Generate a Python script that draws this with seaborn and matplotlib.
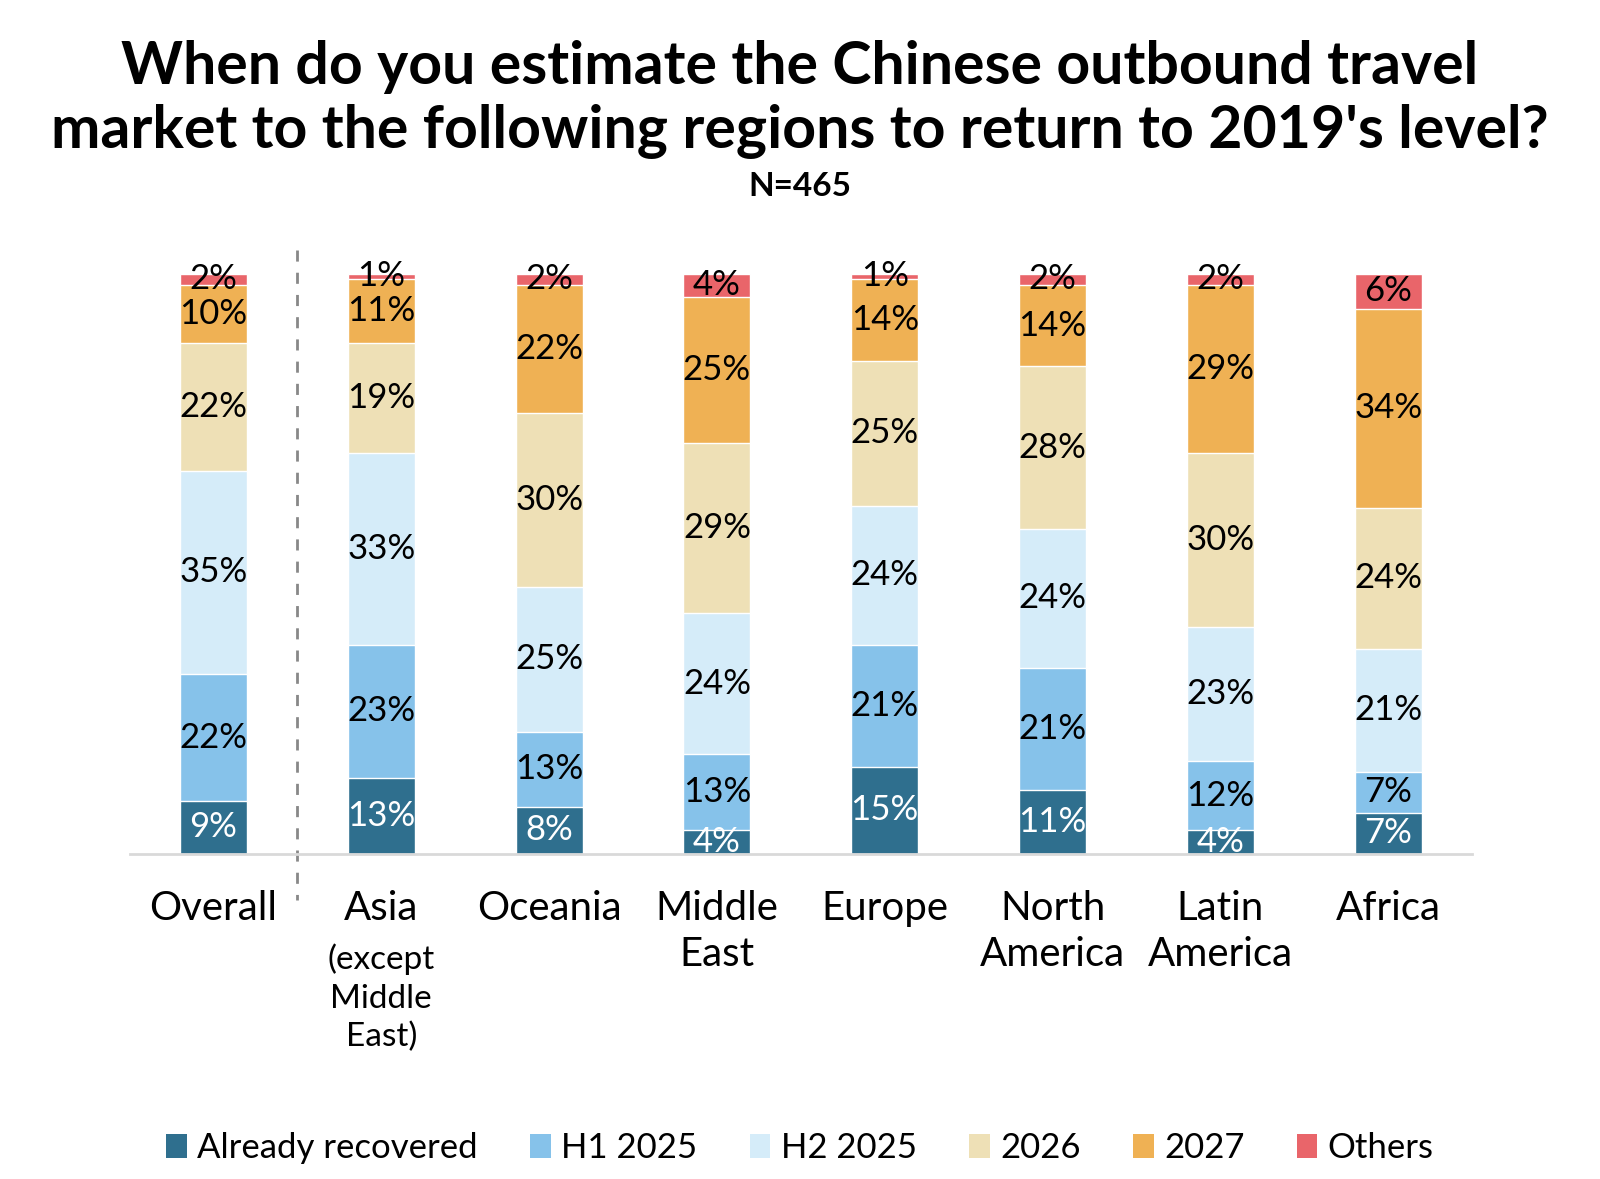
import matplotlib
matplotlib.use("Agg")
import matplotlib.pyplot as plt
import numpy as np
import pandas as pd
import seaborn as sns
from matplotlib.patches import Patch

regions = ["Overall", "Asia", "Oceania", "Middle\nEast", "Europe",
           "North\nAmerica", "Latin\nAmerica", "Africa"]
series = ["Already recovered", "H1 2025", "H2 2025", "2026", "2027", "Others"]

already = [9, 13, 8, 4, 15, 11, 4, 7]
h1_2025 = [22, 23, 13, 13, 21, 21, 12, 7]
h2_2025 = [35, 33, 25, 24, 24, 24, 23, 21]
y2026 = [22, 19, 30, 29, 25, 28, 30, 24]
y2027 = [10, 11, 22, 25, 14, 14, 29, 34]
others = [2, 1, 2, 4, 1, 2, 2, 6]

colors = ["#2F6F8E", "#86C2EA", "#D5ECF9", "#EEE0B6", "#EFB154", "#E9656A"]
label_colors = ["white", "black", "black", "black", "black", "black"]

sns.set_style("white")
plt.rcParams["font.family"] = ["Lato", "DejaVu Sans"]
plt.rcParams["text.color"] = "black"
plt.rcParams["xtick.color"] = "black"

values = np.array([already, h1_2025, h2_2025, y2026, y2027, others], dtype=float)
shares = values / values.sum(axis=0) * 100  # bars all reach 100%
cum = np.cumsum(shares, axis=0)

fig = plt.figure(figsize=(16, 11.79), dpi=100)
ax = fig.add_axes([0.081, 0.276, 0.839, 0.492])

# draw cumulative totals from the top series down so each layer covers the next
for k in range(len(series) - 1, -1, -1):
    df = pd.DataFrame({"region": regions, "cum": cum[k]})
    sns.barplot(data=df, x="region", y="cum", order=regions, color=colors[k],
                width=0.4, errorbar=None, saturation=1, ax=ax)

for k in range(len(series)):
    for i in range(len(regions)):
        bottom = cum[k][i] - shares[k][i]
        ax.text(i, bottom + shares[k][i] / 2, f"{int(values[k][i])}%",
                ha="center", va="center", fontsize=25, color=label_colors[k])

ax.set_xlim(-0.5, 7.5)
ax.set_ylim(0, 100)
ax.set_xlabel("")
ax.set_ylabel("")
ax.set_yticks([])
for s in ["top", "right", "left"]:
    ax.spines[s].set_visible(False)
ax.spines["bottom"].set_color("#D9D9D9")
ax.spines["bottom"].set_linewidth(2)
ax.tick_params(axis="x", length=0, pad=26, labelsize=29)
ax.set_xticks(range(len(regions)))
ax.set_xticklabels(regions, linespacing=1.3)

ax.text(1, -0.155, "(except\nMiddle\nEast)", transform=ax.get_xaxis_transform(),
        ha="center", va="top", fontsize=24, linespacing=1.35)

# separator between overall and regions
ax.plot([0.5, 0.5], [104, -8], ls=(0, (4, 4)), color="#888888", lw=2, clip_on=False)

fig.text(0.5, 0.966, "When do you estimate the Chinese outbound travel\n"
         "market to the following regions to return to 2019's level?",
         ha="center", va="top", fontsize=42.5, fontweight="bold", linespacing=1.22)
fig.text(0.5, 0.842, "N=465", ha="center", va="center", fontsize=24, fontweight="bold")

handles = [Patch(facecolor=c, edgecolor="none") for c in colors]
fig.legend(handles, series, loc="center", bbox_to_anchor=(0.5, 0.026), ncol=6,
           frameon=False, fontsize=25, handlelength=0.6, handleheight=0.7,
           handletextpad=0.3, columnspacing=1.5)

fig.savefig("out.png", dpi=100)
